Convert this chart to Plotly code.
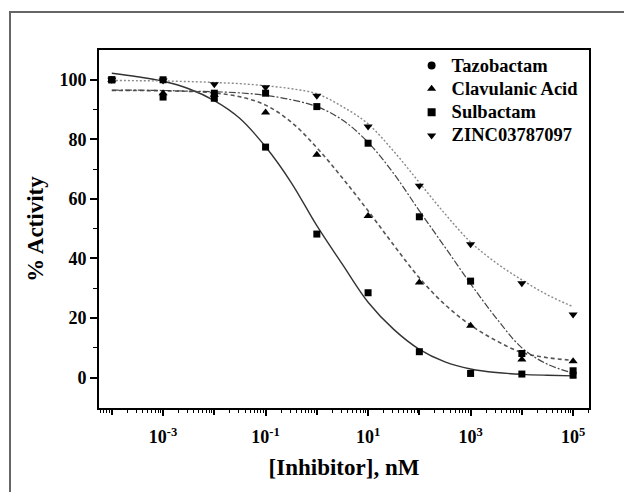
import plotly.graph_objects as go

# ---------------- data ----------------
conc_nM = [0.0001, 0.001, 0.01, 0.1, 1, 10, 100, 1000, 10000, 100000]
tazobactam = [100, 100, 93.8, 77.4, 48.2, 28.5, 8.7, 1.4, 1.2, 0.8]
clavulanic = [100, 95.5, 95.0, 89.0, 74.8, 54.3, 31.9, 17.4, 6.1, 5.5]
sulbactam = [100, 94.2, 95.5, 95.5, 91.0, 78.7, 54.0, 32.4, 8.1, 2.3]
zinc = [100, 99.8, 98.5, 97.5, 94.6, 84.3, 64.4, 44.8, 31.7, 21.2]

# fitted curves, read at half-decade steps
curve_log_conc = [-4.0, -3.5, -3.0, -2.5, -2.0, -1.5, -1.0, -0.5, 0.0, 0.5,
                  1.0, 1.5, 2.0, 2.5, 3.0, 3.5, 4.0, 4.5, 5.0]
taz_fit = [102.2, 101.0, 99.5, 97.0, 93.0, 87.0, 77.5, 65.5, 51.0, 38.0,
           25.3, 16.2, 9.5, 5.3, 2.9, 1.7, 1.1, 0.8, 0.6]
clav_fit = [96.4, 96.4, 96.3, 96.1, 95.6, 94.3, 91.5, 85.8, 77.2, 67.0,
            56.0, 44.5, 33.5, 24.5, 17.6, 12.4, 8.4, 6.7, 5.8]
sulb_fit = [96.5, 96.5, 96.4, 96.2, 96.0, 95.6, 94.8, 93.3, 91.0, 86.5,
            79.0, 68.5, 56.0, 43.8, 31.5, 20.0, 10.0, 4.5, 1.5]
zinc_fit = [99.8, 99.7, 99.6, 99.4, 99.1, 98.7, 98.0, 97.0, 95.3, 91.0,
            85.2, 76.0, 65.5, 55.0, 45.5, 38.5, 32.8, 27.8, 23.8]

names = ["Tazobactam", "Clavulanic Acid", "Sulbactam", "ZINC03787097"]
legend_symbols = ["circle", "triangle-up", "square", "triangle-down"]

x_label_exp = [-3, -1, 1, 3, 5]
x_plain_exp = [-4, -2, 0, 2, 4]
y_ticks = [0, 20, 40, 60, 80, 100]
y_minor = [10, 30, 50, 70, 90]

# ---------------- figure ----------------
FONT = "Liberation Serif"
X_RANGE = [-4.25, 5.31]
curve_x = [10 ** v for v in curve_log_conc]

fig = go.Figure()

curve_styles = [
    (taz_fit, dict(color="#333333", width=1.4, dash="solid")),
    (clav_fit, dict(color="#555555", width=1.6, dash="4px,3px")),
    (sulb_fit, dict(color="#444444", width=1.2, dash="7px,2px,2px,2px")),
    (zinc_fit, dict(color="#8a8a8a", width=1.4, dash="2px,2px")),
]
for ys, ln in curve_styles:
    fig.add_trace(go.Scatter(x=curve_x, y=ys, mode="lines", line=dict(shape="spline", **ln),
                             showlegend=False, hoverinfo="skip"))

data_sets = [
    (tazobactam, "square", 7),
    (clavulanic, "triangle-up", 8),
    (sulbactam, "square", 7),
    (zinc, "triangle-down", 8),
]
for (ys, sym, sz) in data_sets:
    fig.add_trace(go.Scatter(x=conc_nM, y=ys, mode="markers",
                             marker=dict(symbol=sym, size=sz, color="black"),
                             showlegend=False))

# legend entries
for nm, sym in zip(names, legend_symbols):
    fig.add_trace(go.Scatter(x=[None], y=[None], mode="markers",
                             name='<span style="font-size:18.5px">%s</span>' % nm,
                             marker=dict(symbol=sym, size=8, color="black")))

# hidden trace carrying the overlay axis (unlabelled decade ticks)
fig.add_trace(go.Scatter(x=[None], y=[None], xaxis="x2", showlegend=False, hoverinfo="skip"))

minor_x = []
for d in range(-5, 6):
    for k in range(2, 10):
        minor_x.append(k * 10.0 ** d)

# page body has an 8px margin, so the figure is 624x484 placed at (8, 8)
fig.update_layout(
    width=624, height=484,
    margin=dict(l=91, r=43, t=42, b=84),
    paper_bgcolor="white", plot_bgcolor="white",
    font=dict(family=FONT, color="black"),
    showlegend=True,
    legend=dict(x=0.638, y=1.003, xanchor="left", yanchor="top",
                bgcolor="rgba(0,0,0,0)", borderwidth=0,
                font=dict(family=FONT, size=15.6, weight="bold", color="black"),
                tracegroupgap=0, itemwidth=30),
    xaxis=dict(
        type="log", range=X_RANGE,
        tickvals=[10.0 ** e for e in x_label_exp],
        ticktext=["10<sup>%d</sup>" % e for e in x_label_exp],
        ticks="outside", ticklen=6, tickwidth=1.5, tickcolor="black",
        ticklabelstandoff=6,
        showline=True, linewidth=1.6, linecolor="black", mirror=True,
        showgrid=False, zeroline=False,
        tickfont=dict(family=FONT, size=18, weight="bold", color="black"),
        minor=dict(tickvals=minor_x, ticks="outside", ticklen=3.5, tickwidth=1,
                   tickcolor="black", showgrid=False),
        title=dict(text="[Inhibitor], nM", standoff=12,
                   font=dict(family=FONT, size=23, weight="bold", color="black")),
    ),
    xaxis2=dict(
        type="log", range=X_RANGE, overlaying="x", anchor="y", side="bottom",
        tickvals=[10.0 ** e for e in x_plain_exp], showticklabels=False,
        ticks="outside", ticklen=6, tickwidth=1.5, tickcolor="black",
        showline=False, showgrid=False, zeroline=False,
    ),
    yaxis=dict(
        range=[-10.2, 110],
        tickvals=y_ticks,
        ticks="outside", ticklen=7, tickwidth=1.5, tickcolor="black",
        showline=True, linewidth=1.6, linecolor="black", mirror=True,
        showgrid=False, zeroline=False,
        tickfont=dict(family=FONT, size=18, weight="bold", color="black"),
        minor=dict(tickvals=y_minor, ticks="outside", ticklen=4, tickwidth=1,
                   tickcolor="black", showgrid=False),
        title=dict(text="% Activity", standoff=10,
                   font=dict(family=FONT, size=23, weight="bold", color="black")),
    ),
    shapes=[dict(type="rect", xref="paper", yref="paper",
                 x0=(10 - 99) / 490, x1=(650 - 99) / 490,
                 y0=(408 - 520) / 358, y1=(408 - 12) / 358,
                 line=dict(color="#666666", width=2), fillcolor="rgba(0,0,0,0)", layer="below")],
)

fig.write_html("out.html")
